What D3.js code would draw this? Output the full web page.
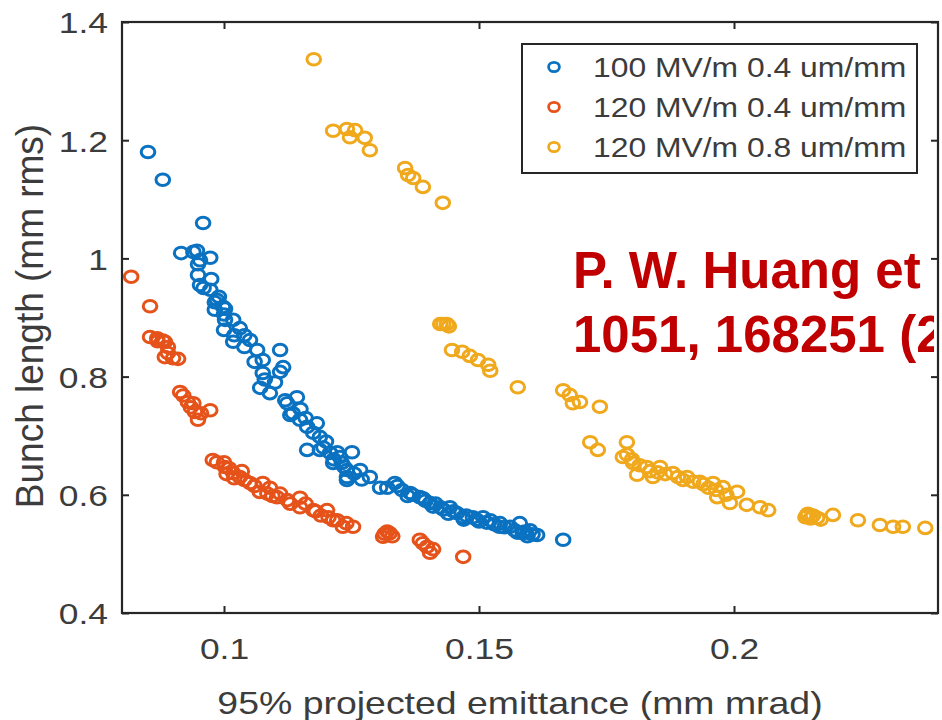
<!DOCTYPE html>
<html>
<head>
<meta charset="utf-8">
<script src="https://cdn.jsdelivr.net/npm/d3@7/dist/d3.min.js"></script>
<style>
  html, body { margin: 0; padding: 0; background: #fff; }
  svg { display: block; }
  text { font-family: "Liberation Sans", Arial, Helvetica, sans-serif; }
</style>
</head>
<body>
<svg id="chart" width="942" height="720"></svg>
<script>
// ---------- DATA ----------
const seriesNames = ["100 MV/m 0.4 um/mm", "120 MV/m 0.4 um/mm", "120 MV/m 0.8 um/mm"];
const seriesColors = ["#0a72c0", "#e5521a", "#f0a81c"];

const xTickValues = [0.1, 0.15, 0.2];
const xTickLabels = ["0.1", "0.15", "0.2"];
const yTickValues = [0.4, 0.6, 0.8, 1.0, 1.2, 1.4];
const yTickLabels = ["0.4", "0.6", "0.8", "1", "1.2", "1.4"];

const xLabel = "95% projected emittance (mm mrad)";
const yLabel = "Bunch length (mm rms)";
const noteLines = ["P. W. Huang et al., NIM A", "1051, 168251 (2023)"];

// 100 MV/m 0.4 um/mm  [emittance, bunch length]
const blue = [
  [0.0851,1.180],[0.0880,1.133],[0.0959,1.060],[0.0916,1.009],[0.0940,1.011],[0.0947,1.013],
  [0.0953,0.997],[0.0973,1.001],[0.0949,0.990],[0.0949,0.972],[0.0953,0.955],[0.0973,0.947],
  [0.0960,0.950],[0.0982,0.926],[0.0986,0.930],[0.0998,0.918],[0.0982,0.913],[0.1002,0.915],
  [0.1002,0.896],[0.1018,0.896],[0.1000,0.879],[0.1031,0.882],[0.1018,0.859],[0.1051,0.862],
  [0.1040,0.870],[0.1065,0.845],[0.1110,0.845],[0.1076,0.828],[0.1116,0.816],[0.1076,0.806],
  [0.1110,0.808],[0.1071,0.781],[0.1090,0.772],[0.1100,0.790],[0.1124,0.755],[0.1143,0.765],
  [0.1135,0.738],[0.1149,0.727],[0.1163,0.715],[0.1182,0.721],[0.1175,0.705],[0.1188,0.698],
  [0.1163,0.676],[0.1188,0.676],[0.1208,0.671],[0.1227,0.664],[0.1214,0.654],[0.1241,0.642],
  [0.1241,0.625],[0.1222,0.672],[0.1251,0.672],[0.1231,0.654],[0.1267,0.642],[0.1241,0.630],
  [0.1286,0.630],[0.1306,0.612],[0.1335,0.620],[0.1349,0.608],[0.1365,0.603],[0.1384,0.596],
  [0.1404,0.586],[0.1424,0.579],[0.1443,0.579],[0.1457,0.569],[0.1469,0.562],[0.1488,0.562],
  [0.1508,0.562],[0.1522,0.557],[0.1541,0.552],[0.1561,0.546],[0.1580,0.552],[0.1586,0.535],
  [0.1600,0.540],[0.1614,0.532],[0.1665,0.524],
  [0.1340,0.615],[0.1370,0.600],[0.1395,0.590],[0.1415,0.585],[0.1430,0.575],[0.1450,0.572],
  [0.1475,0.565],[0.1495,0.558],[0.1515,0.553],[0.1530,0.550],[0.1550,0.545],[0.1570,0.540],
  [0.1590,0.538],[0.1605,0.533],[0.1320,0.612],[0.1360,0.598],[0.1390,0.594],[0.1410,0.580],
  [0.1440,0.568],[0.1470,0.558],[0.1500,0.555],[0.1540,0.546],[0.1575,0.536],[0.1595,0.530],
  [0.1200,0.690],[0.1195,0.680],[0.1215,0.660],[0.1235,0.648],[0.1255,0.636],[0.1270,0.626],
  [0.1150,0.745],[0.1130,0.735],[0.1160,0.730],[0.1120,0.760],[0.1080,0.795],[0.1060,0.825],
  [0.1040,0.850],[0.1020,0.870],[0.1000,0.905],[0.0990,0.935],[0.0975,0.965]
];

// 120 MV/m 0.4 um/mm
const orange = [
  [0.0818,0.969],[0.0855,0.919],[0.0855,0.867],[0.0869,0.865],[0.0884,0.859],[0.0880,0.861],
  [0.0890,0.840],[0.0910,0.830],[0.0884,0.833],[0.0900,0.831],[0.0870,0.860],[0.0890,0.850],
  [0.0914,0.774],[0.0929,0.757],[0.0943,0.740],[0.0973,0.743],[0.0949,0.727],[0.0920,0.768],
  [0.0935,0.748],[0.0955,0.738],[0.0940,0.755],
  [0.0978,0.659],[0.0986,0.655],[0.1002,0.647],[0.1018,0.637],[0.1031,0.630],[0.1051,0.620],
  [0.1076,0.620],[0.1090,0.612],[0.1104,0.596],[0.1124,0.591],[0.1149,0.595],[0.1149,0.579],
  [0.1175,0.574],[0.1202,0.574],[0.1214,0.557],[0.1233,0.546],[0.1222,0.557],[0.1253,0.546],
  [0.1000,0.655],[0.1010,0.645],[0.1005,0.635],[0.1020,0.628],[0.1040,0.625],[0.1035,0.640],
  [0.1060,0.615],[0.1070,0.605],[0.1085,0.602],[0.1095,0.598],[0.1110,0.602],[0.1130,0.585],
  [0.1160,0.585],[0.1180,0.572],[0.1190,0.565],[0.1205,0.562],[0.1240,0.552],
  [0.1325,0.535],[0.1312,0.529],[0.1320,0.538],[0.1330,0.530],[0.1315,0.534],
  [0.1384,0.524],[0.1398,0.512],[0.1404,0.502],[0.1390,0.518],[0.1410,0.508],[0.1469,0.495]
];

// 120 MV/m 0.8 um/mm
const yellow = [
  [0.1176,1.337],[0.1214,1.216],[0.1241,1.219],[0.1257,1.217],[0.1247,1.205],[0.1276,1.204],
  [0.1286,1.183],[0.1355,1.153],[0.1361,1.141],[0.1371,1.136],[0.1390,1.121],[0.1429,1.094],
  [0.1424,0.889],[0.1430,0.889],[0.1437,0.889],[0.1441,0.885],[0.1447,0.845],[0.1467,0.842],
  [0.1482,0.835],[0.1498,0.828],[0.1518,0.820],[0.1522,0.810],[0.1576,0.782],[0.1665,0.777],
  [0.1678,0.769],[0.1684,0.755],[0.1698,0.757],[0.1737,0.749],
  [0.1718,0.689],[0.1733,0.676],[0.1790,0.689],[0.1782,0.664],[0.1802,0.654],[0.1829,0.647],
  [0.1855,0.647],[0.1810,0.634],[0.1841,0.630],[0.1880,0.637],[0.1908,0.630],[0.1933,0.622],
  [0.1959,0.620],[0.1978,0.613],[0.1967,0.596],[0.2006,0.605],[0.1992,0.586],[0.2025,0.583],
  [0.2051,0.579],[0.2067,0.574],
  [0.1815,0.650],[0.1835,0.640],[0.1850,0.638],[0.1865,0.635],[0.1890,0.630],[0.1900,0.625],
  [0.1920,0.622],[0.1940,0.618],[0.1950,0.612],[0.1965,0.608],[0.1985,0.600],[0.1800,0.660],
  [0.1790,0.668],
  [0.2143,0.566],[0.2163,0.561],[0.2140,0.562],[0.2150,0.560],[0.2155,0.565],[0.2170,0.558],
  [0.2145,0.568],[0.2194,0.566],[0.2243,0.557],[0.2286,0.549],[0.2312,0.546],[0.2331,0.546],
  [0.2375,0.544]
];

const seriesData = [blue, orange, yellow];

// ---------- LAYOUT ----------
const plotL = 122, plotR = 938, plotT = 22, plotB = 613;
const K = 1.18; // horizontal stretch of the original picture's text
const svg = d3.select("#chart");

const x = d3.scaleLinear().domain([0.08, 0.24]).range([plotL, plotR]);
const y = d3.scaleLinear().domain([0.4, 1.4]).range([plotB, plotT]);

const axisColor = "#262626";
const textColor = "#3c3c3c";

// points
seriesData.forEach((data, si) => {
  svg.append("g")
    .selectAll("ellipse")
    .data(data)
    .join("ellipse")
    .attr("cx", d => x(d[0]))
    .attr("cy", d => y(d[1]))
    .attr("rx", 6.8)
    .attr("ry", 5.8)
    .attr("fill", "none")
    .attr("stroke", seriesColors[si])
    .attr("stroke-width", 3);
});

// axes
const gx = svg.append("g").attr("transform", `translate(0,${plotB})`)
  .call(d3.axisBottom(x).tickValues(xTickValues).tickFormat((d, i) => xTickLabels[i])
    .tickSizeInner(-7).tickSizeOuter(0));
gx.select(".domain").remove();
gx.selectAll(".tick line").attr("stroke", axisColor).attr("stroke-width", 2);
gx.selectAll(".tick text")
  .attr("y", 46).attr("dy", 0)
  .attr("transform", `scale(${K},1)`)
  .attr("font-size", 30).attr("fill", textColor)
  .style("font-family", '"Liberation Sans", Arial, sans-serif');

const gxt = svg.append("g").attr("transform", `translate(0,${plotT})`)
  .call(d3.axisTop(x).tickValues(xTickValues).tickFormat("").tickSizeInner(-7).tickSizeOuter(0));
gxt.select(".domain").remove();
gxt.selectAll(".tick line").attr("stroke", axisColor).attr("stroke-width", 2);

const gy = svg.append("g").attr("transform", `translate(${plotL},0)`)
  .call(d3.axisLeft(y).tickValues(yTickValues).tickFormat((d, i) => yTickLabels[i])
    .tickSizeInner(-7).tickSizeOuter(0));
gy.select(".domain").remove();
gy.selectAll(".tick line").attr("stroke", axisColor).attr("stroke-width", 2);
gy.selectAll(".tick text")
  .attr("x", -14 / K).attr("dy", "0.36em")
  .attr("transform", `scale(${K},1)`)
  .attr("font-size", 30).attr("fill", textColor)
  .style("font-family", '"Liberation Sans", Arial, sans-serif');

const gyr = svg.append("g").attr("transform", `translate(${plotR},0)`)
  .call(d3.axisRight(y).tickValues(yTickValues).tickFormat("").tickSizeInner(-7).tickSizeOuter(0));
gyr.select(".domain").remove();
gyr.selectAll(".tick line").attr("stroke", axisColor).attr("stroke-width", 2);

// axis labels
svg.append("text")
  .attr("transform", `translate(520,714) scale(1.17,1)`)
  .attr("text-anchor", "middle")
  .attr("font-size", 32)
  .attr("fill", textColor)
  .text(xLabel);

svg.append("text")
  .attr("transform", `translate(43,316) scale(1.05,1) rotate(-90)`)
  .attr("text-anchor", "middle")
  .attr("font-size", 37)
  .attr("fill", textColor)
  .text(yLabel);

// legend
const lg = svg.append("g");
lg.append("rect")
  .attr("x", 522).attr("y", 44).attr("width", 395).attr("height", 129)
  .attr("fill", "#fff").attr("stroke", axisColor).attr("stroke-width", 2);
seriesNames.forEach((name, i) => {
  const cy = 67 + i * 40;
  lg.append("ellipse")
    .attr("cx", 554).attr("cy", cy).attr("rx", 5.4).attr("ry", 4.7)
    .attr("fill", "none").attr("stroke", seriesColors[i]).attr("stroke-width", 2.8);
  lg.append("text")
    .attr("transform", `translate(593,${cy + 10}) scale(${K},1)`)
    .attr("font-size", 27)
    .attr("fill", textColor)
    .text(name);
});

// citation note (red, bold) — the source picture is cropped at its right edge
svg.append("defs").append("clipPath").attr("id", "noteClip")
  .append("rect").attr("x", 0).attr("y", 0).attr("width", 934).attr("height", 720);
const note = svg.append("g").attr("clip-path", "url(#noteClip)");
noteLines.forEach((t, i) => {
  note.append("text")
    .attr("x", 573).attr("y", 288 + i * 64)
    .attr("font-size", 51)
    .attr("font-weight", "bold")
    .attr("fill", "#c00000")
    .text(t);
});

// box
svg.append("rect")
  .attr("x", plotL).attr("y", plotT).attr("width", plotR - plotL).attr("height", plotB - plotT)
  .attr("fill", "none").attr("stroke", axisColor).attr("stroke-width", 2.2);
</script>
</body>
</html>
